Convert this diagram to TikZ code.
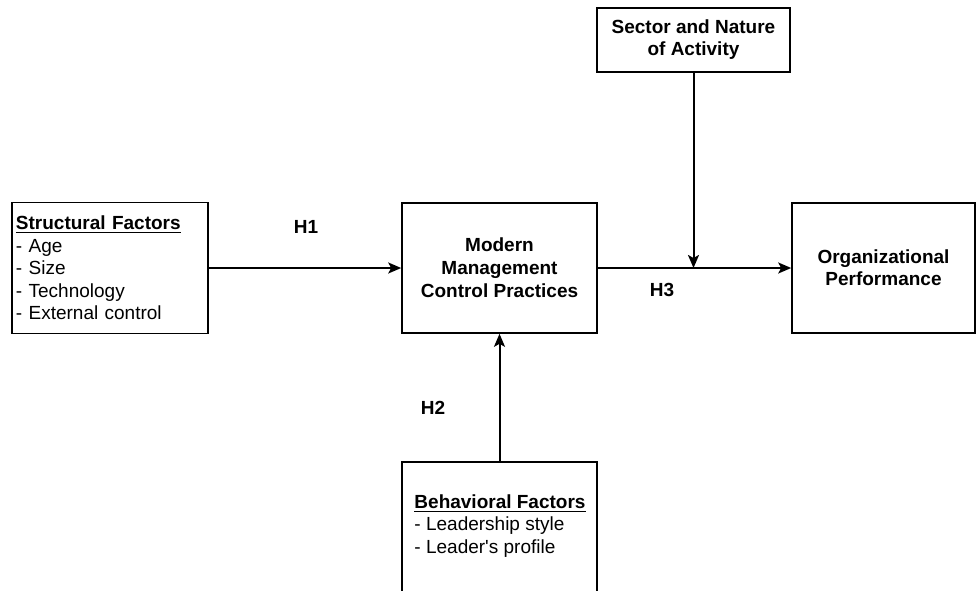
\documentclass[tikz,border=0pt]{standalone}
\usepackage{fontspec}
\setmainfont{Liberation Sans}
\usetikzlibrary{arrows.meta}

\begin{document}
\begin{tikzpicture}[x=0.5pt,y=-0.5pt]
	\tikzstyle{every node}+=[font=\fontsize{9.5}{11.3}\selectfont]
	\tikzstyle{box}=[draw, line width=0.8pt, inner sep=0pt]
	\tikzstyle{arr}=[line width=1pt, -{Stealth[length=6.5pt,width=5.5pt,inset=1.5pt]}]
	\tikzstyle{hyp}=[font=\fontsize{9.5}{11.3}\selectfont\bfseries]
	\useasboundingbox (0,0) rectangle (976,590);
	% boxes
	\node[box, minimum width=98pt, minimum height=65.5pt, text width=94pt, inner xsep=2pt, align=left] (struct) at (110,268)
		{\textbf{\underline{Structural Factors}}\\- Age\\- Size\\- Technology\\- External control};
	\node[box, minimum width=97.5pt, minimum height=65pt, align=center, font=\fontsize{9.5}{11.6}\selectfont\bfseries] (mmcp) at (499.5,268)
		{Modern\\Management\\Control Practices};
	\node[box, minimum width=91.5pt, minimum height=65pt, align=center, font=\fontsize{9.5}{11}\selectfont\bfseries] (orgperf) at (883.5,268)
		{Organizational\\Performance};
	\node[box, minimum width=96.5pt, minimum height=32pt, align=center, font=\fontsize{9.5}{11}\selectfont\bfseries] (sector) at (693.5,40)
		{Sector and Nature\\of Activity};
	\node[box, minimum width=97.5pt, minimum height=80pt] (behav) at (499.5,542) {};
	\node[align=left, inner sep=0pt] (behavtxt) at (500,526)
		{\textbf{\underline{Behavioral Factors}}\\- Leadership style\\- Leader\textquotesingle s profile};
	% links
	\draw[arr] (struct.east) -- (mmcp.west);
	\draw[arr] (mmcp.east) -- (orgperf.west);
	\draw[arr] (sector.south) -- (sector.south |- mmcp.east);
	\draw[arr] (behav.north) -- (mmcp.south);
	% hypotheses
	\node[hyp] (h1) at (306,227) {H1};
	\node[hyp] (h2) at (433,408) {H2};
	\node[hyp] (h3) at (662,290) {H3};
\end{tikzpicture}
\end{document}
